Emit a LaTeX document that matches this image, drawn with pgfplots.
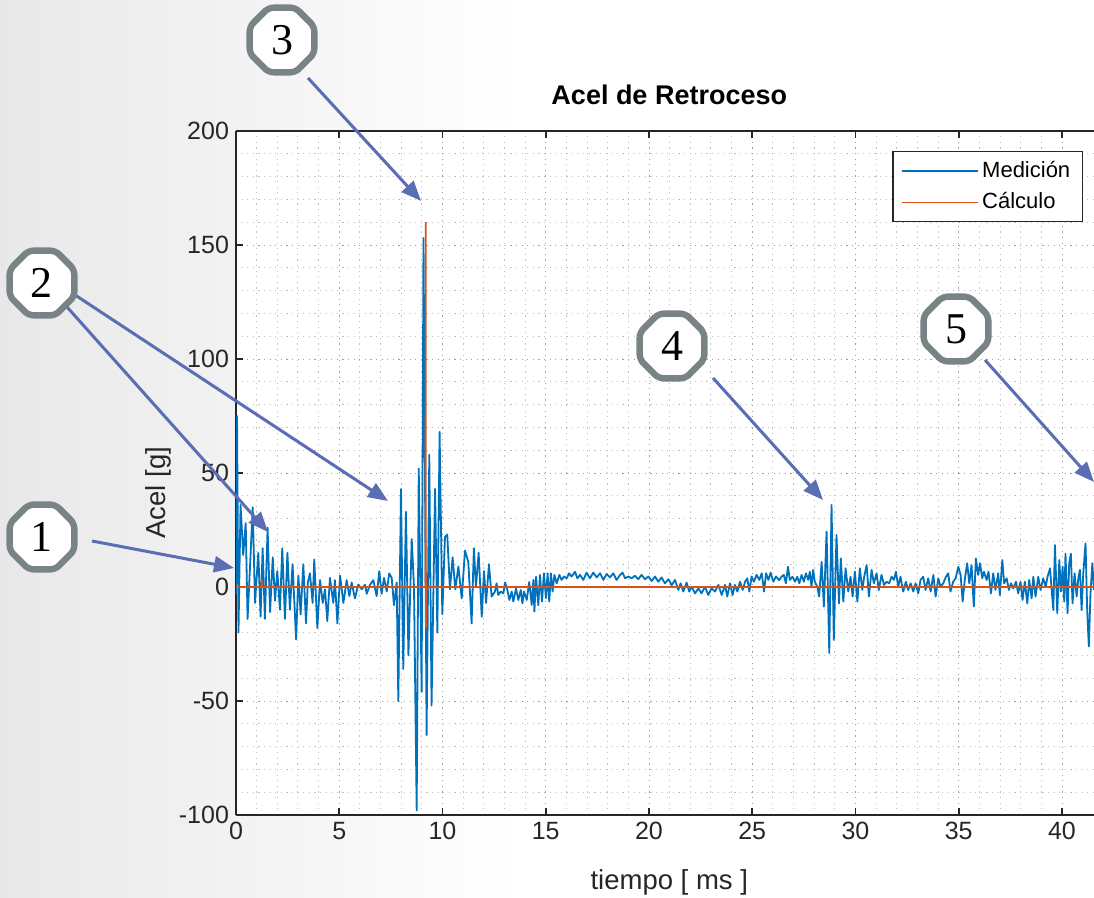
\documentclass[border=0pt]{standalone}
\usepackage{pgfplots}
\pgfplotsset{compat=1.18}
\usepackage{pgfplotstable}
\usepackage{fontspec}
\setmainfont{Liberation Sans}
\newfontfamily\annfont{Liberation Serif}
\usetikzlibrary{shapes.geometric,arrows.meta}
\definecolor{mblue}{HTML}{0072BD}
\definecolor{morange}{HTML}{D95319}
\definecolor{axgray}{HTML}{262626}
\definecolor{arrowblue}{HTML}{5B6DB3}
\definecolor{octgray}{HTML}{778385}

\pgfplotstableread{
x y
0.00 -3
0.05 75
0.12 -20
0.22 36
0.35 14
0.47 28
0.56 -14
0.68 9
0.81 35
0.92 -7
1.08 15
1.19 -13
1.29 17
1.40 -14
1.53 26
1.65 -11
1.78 13
1.89 -6
2.00 7
2.13 -10
2.24 17
2.37 -14
2.49 15
2.61 -10
2.74 10
2.91 -23
3.02 5
3.13 -12
3.26 10
3.39 -16
3.48 2
3.58 6
3.71 -7
3.79 12
3.94 -18
4.07 3
4.20 -7
4.31 -1
4.42 -15
4.55 4
4.71 -7
4.79 3
4.91 -16
5.04 5
5.20 -7
5.36 3
5.49 -4
5.60 2
5.76 -5
5.92 1
6.09 -1
6.25 1
6.33 -3
6.49 1
6.65 3
6.81 -4
6.94 7
7.05 -3
7.17 4
7.30 -2
7.42 6
7.54 4
7.65 -8
7.78 2
7.86 -50
7.99 43
8.10 -36
8.23 33
8.35 -30
8.51 21
8.62 0
8.75 -98
8.85 52
8.99 -46
9.08 153
9.23 -65
9.36 58
9.47 -52
9.64 43
9.75 -20
9.86 68
9.99 -12
10.12 22
10.23 23
10.36 -1
10.49 13
10.62 -1
10.77 9
10.93 -5
11.09 16
11.25 11
11.41 -16
11.52 17
11.62 0
11.75 15
11.90 -13
12.01 7
12.11 -7
12.25 10
12.38 -4.2
12.54 -2.0
12.62 1.6
12.70 -3.5
12.82 -2.0
12.95 -2.8
13.03 2.0
13.14 -1.3
13.24 -5.7
13.35 -2.0
13.43 -6.4
13.56 -0.6
13.67 -5.7
13.79 -1.3
13.87 -7.2
13.95 -2.0
14.08 -5.7
14.20 2.2
14.32 -7.9
14.40 3.1
14.45 -10.8
14.53 4.5
14.64 -8.0
14.72 5.3
14.82 -6.4
14.91 6.0
15.01 -4.9
15.09 6.0
15.17 -6.4
15.25 6.0
15.33 -2.0
15.42 5.3
15.53 1.6
15.66 5.3
15.77 3.1
15.88 4.6
16.01 3.8
16.13 6.0
16.25 4.6
16.42 6.7
16.53 3.8
16.66 5.3
16.82 3.1
16.98 6.3
17.14 3.8
17.30 6.3
17.47 4.2
17.63 6.0
17.79 3.1
17.95 5.7
18.11 4.2
18.27 6.0
18.43 3.1
18.60 5.3
18.72 6.3
18.84 3.8
19.00 4.6
19.16 3.8
19.32 4.9
19.48 3.4
19.64 5.3
19.81 3.4
19.97 4.6
20.13 2.6
20.29 4.6
20.45 2.3
20.61 4.2
20.77 1.6
20.94 3.4
21.10 0.8
21.26 3.1
21.42 -1.3
21.53 1.6
21.66 -2.0
21.82 1.9
21.95 -2.0
22.07 0.1
22.23 -2.8
22.39 -0.6
22.55 -2.8
22.71 0.1
22.87 -3.5
23.03 -0.6
23.20 -2.0
23.36 0.9
23.52 -3.5
23.68 0.9
23.79 -4.2
23.92 1.6
24.05 -3.5
24.16 0.9
24.28 -2.0
24.41 2.3
24.54 -1.3
24.65 2.3
24.76 3.8
24.86 -2.0
24.97 4.6
25.08 2.3
25.21 5.3
25.34 3.1
25.46 6.0
25.57 -2.0
25.67 6.0
25.78 3.1
25.89 6.3
26.02 2.3
26.15 4.6
26.30 3.0
26.42 4.5
26.53 5.3
26.63 1.6
26.73 8.9
26.82 3.1
26.95 4.5
27.07 2.3
27.18 4.5
27.28 1.6
27.39 5.3
27.50 2.3
27.60 6.0
27.71 3.1
27.79 6.7
27.87 0.1
27.95 7.5
28.03 2.3
28.15 0.1
28.24 -4.2
28.36 11.0
28.47 -8.6
28.60 24.3
28.73 -29
28.84 36
28.95 -23.2
29.08 22.8
29.20 -7.2
29.29 12.5
29.41 -6.4
29.52 8.2
29.65 -2.0
29.76 4.5
29.86 -4.2
29.97 6.7
30.09 -6.4
30.21 8.2
30.33 -1.3
30.42 4.5
30.54 9.6
30.65 -4.2
30.78 7.5
30.89 1.6
31.02 6.0
31.13 -1.3
31.26 5.3
31.38 0.9
31.51 2.3
31.63 1.6
31.75 4.5
31.86 3.1
31.96 6.7
32.07 0.1
32.18 4.5
32.31 -2.0
32.44 2.3
32.55 -1.3
32.67 1.6
32.80 -2.0
32.91 1.6
33.04 -2.8
33.15 3.1
33.28 4.5
33.39 -1.3
33.52 3.8
33.64 -2.0
33.77 5.3
33.88 -4.2
34.01 3.8
34.12 0.1
34.25 1.6
34.38 4.5
34.49 6.0
34.60 -2.0
34.73 2.3
34.85 3.8
34.98 8.9
35.09 5.3
35.19 -6.4
35.30 3.8
35.41 10.4
35.51 1.6
35.62 9.6
35.73 -8.6
35.83 12.5
35.94 5.3
36.03 10.4
36.14 3.8
36.22 6.7
36.35 3.1
36.44 6.7
36.56 -2.8
36.67 6.0
36.78 -1.3
36.91 6.0
36.99 -3.5
37.11 11.8
37.20 1.6
37.32 3.8
37.43 -1.3
37.53 1.6
37.64 -0.6
37.77 2.3
37.88 -2.8
37.99 2.3
38.09 -5.7
38.20 2.3
38.32 -7.2
38.41 3.1
38.53 -5.0
38.61 4.5
38.72 -4.2
38.85 4.5
38.96 -1.3
39.09 3.8
39.21 0.1
39.30 4.5
39.42 8.2
39.50 -1.3
39.58 -10.1
39.66 18.4
39.77 -11.5
39.87 11.8
39.95 -2.0
40.03 8.9
40.11 -6.4
40.17 14.6
40.27 -11.5
40.35 10.4
40.43 14.6
40.51 -7.2
40.61 6.0
40.71 -4.2
40.79 3.8
40.87 7.5
40.95 -10.1
41.03 6.0
41.14 19.2
41.22 -10.1
41.30 -26.1
41.38 -2.8
41.47 10.4
41.55 -1.3
}\meas

\pgfplotstableread{
x y
0.00 0
1.22 0
1.25 3
1.28 0
9.17 0
9.19 160
9.20 -18
9.23 -1.5
9.35 0
41.60 0
}\calc

\begin{document}
\begin{tikzpicture}
\useasboundingbox (0,0) rectangle (547pt,449pt);
\shade[left color=black!9, right color=white] (0,0) rectangle (260pt,449pt);
\begin{axis}[
  at={(118pt,41.5pt)}, anchor=south west,
  scale only axis, width=429pt, height=342pt,
  xmin=0, xmax=41.55, ymin=-100, ymax=200,
  axis x line=box, axis y line*=left,
  axis background/.style={fill=white},
  xtick={0,5,...,40}, ytick={-100,-50,...,200},
  minor x tick num=4, minor y tick num=4,
  grid=both,
  major grid style={dash pattern=on 0.6pt off 2.2pt, black!38, line width=0.45pt},
  minor grid style={dash pattern=on 0.6pt off 2.2pt, black!25, line width=0.45pt},
  tick style={axgray, line width=0.8pt},
  major tick length=3.5pt, minor tick length=0pt,
  tick align=inside,
  axis line style={axgray, line width=0.8pt},
  ticklabel style={font=\fontsize{12.5}{14}\selectfont, text=axgray},
  /pgf/number format/assume math mode=true,
  title={Acel de Retroceso},
  title style={at={(axis description cs:0.505,1.035)}, anchor=center, font=\fontsize{13.5}{15}\selectfont\bfseries, text=black},
  xlabel={tiempo [ ms ]},
  xlabel style={at={(axis description cs:0.505,-0.098)}, anchor=center, font=\fontsize{13.75}{15}\selectfont, text=axgray},
  ylabel={Acel [g]},
  ylabel style={at={(axis description cs:-0.091,0.471)}, anchor=center, font=\fontsize{13.75}{15}\selectfont, text=axgray},
  legend style={at={(axis description cs:0.987,0.971)}, anchor=north east, draw=axgray, line width=0.6pt, fill=white,
    font=\fontsize{11}{13}\selectfont, inner xsep=4pt, inner ysep=3pt, row sep=2pt, text=black},
  legend cell align=left,
  legend image code/.code={\draw[#1, line width=0.6pt] (0pt,0pt) -- (38pt,0pt);},
]
\addplot[mblue, line width=0.9pt, line join=round] table[x=x,y=y] {\meas};
\addlegendentry{Medición}
\addplot[morange, line width=0.8pt] table[x=x,y=y] {\calc};
\addlegendentry{Cálculo}
\end{axis}

\tikzset{oct/.style={regular polygon, regular polygon sides=8, draw=octgray, line width=3.2pt, fill=white,
  minimum size=35pt, inner sep=0pt, rounded corners=2.5pt, font=\annfont\fontsize{22}{22}\selectfont},
  arr/.style={arrowblue, line width=1.5pt, -{Triangle[length=10pt,width=8pt]}}}
\draw[arr] (46pt,178.5pt) -- (117pt,165pt);
\draw[arr] (33.5pt,295.5pt) -- (134pt,183pt);
\draw[arr] (36pt,302.5pt) -- (194pt,198.5pt);
\draw[arr] (154pt,410pt) -- (210.5pt,348.5pt);
\draw[arr] (356.5pt,260pt) -- (411.5pt,199pt);
\draw[arr] (492.5pt,269pt) -- (547pt,208pt);
\node[oct] at (21pt,180.5pt) {1};
\node[oct] at (21pt,307.5pt) {2};
\node[oct] at (141pt,429pt) {3};
\node[oct] at (336pt,276pt) {4};
\node[oct] at (478pt,284.5pt) {5};
\end{tikzpicture}
\end{document}
